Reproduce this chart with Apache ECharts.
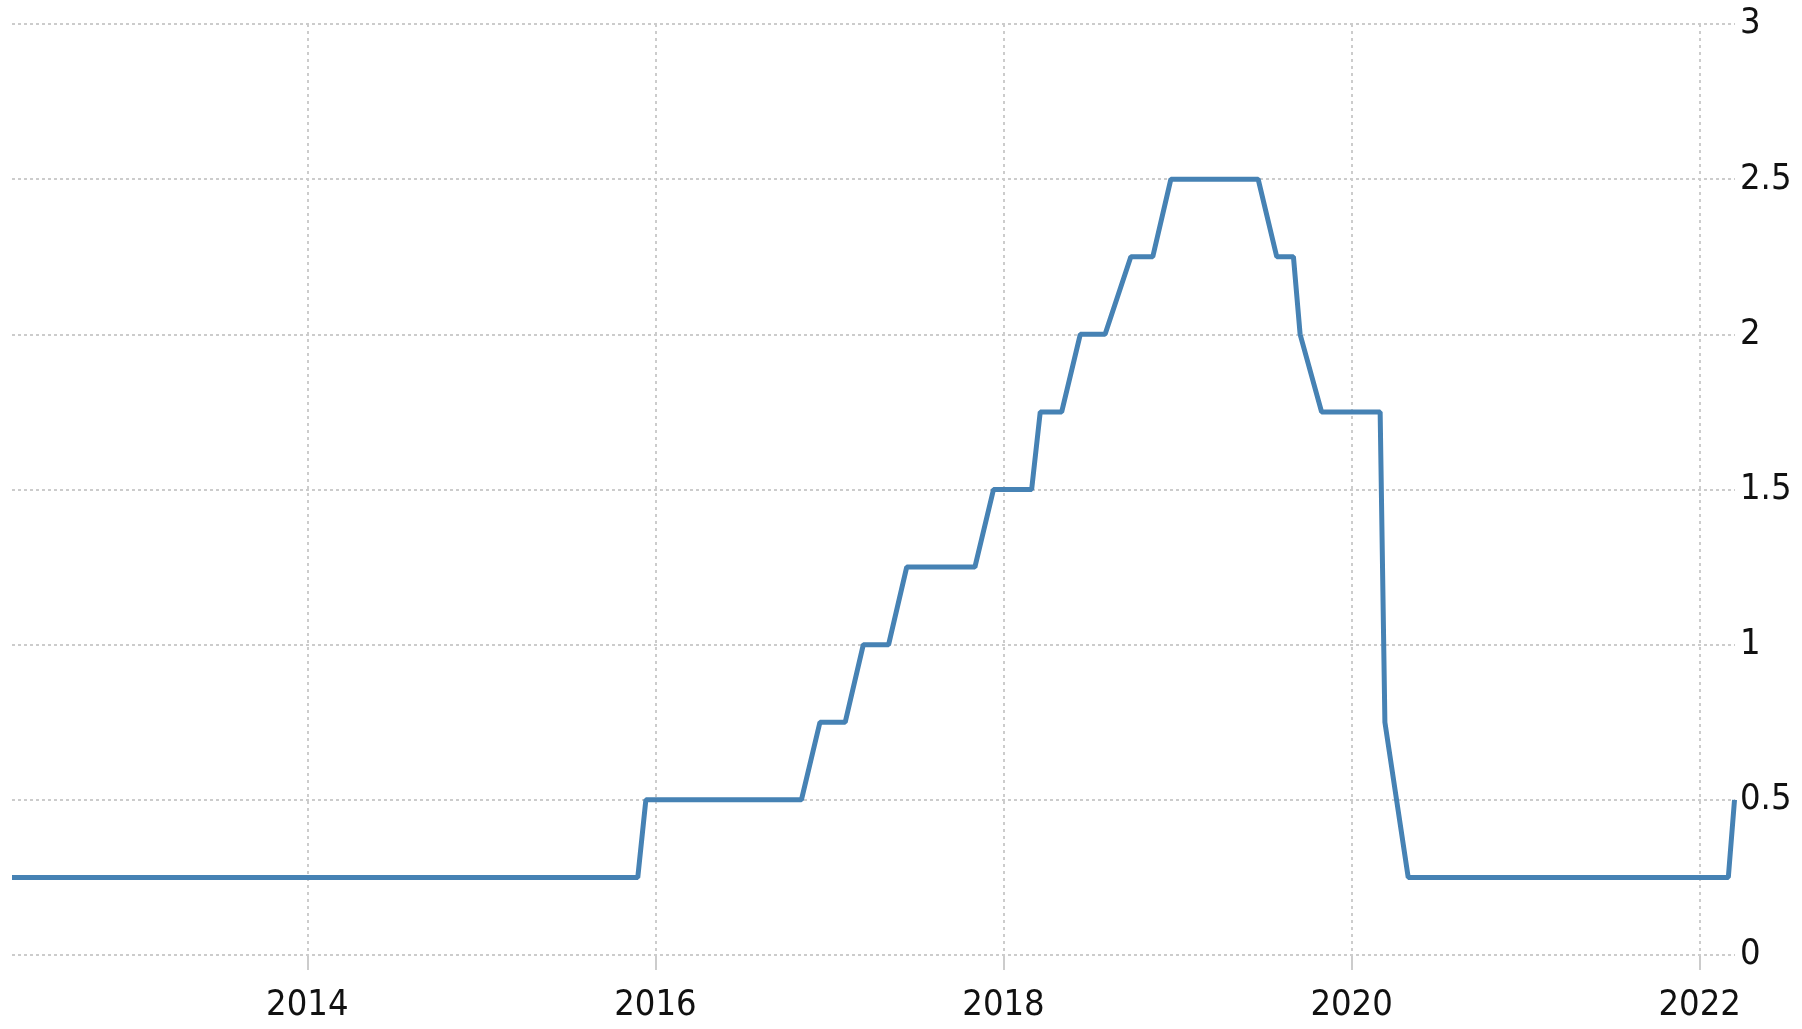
<!DOCTYPE html>
<html>
<head>
<meta charset="utf-8">
<script src="https://cdn.jsdelivr.net/npm/echarts@6/dist/echarts.min.js"></script>
<style>
html, body { margin: 0; padding: 0; background: #fff; }
#chart { width: 1802px; height: 1029px; }
</style>
</head>
<body>
<div id="chart"></div>
<script>
// corner points of the rate line (date, %)
var dates = [
	'2012-04-21', '2015-11-25', '2015-12-12', '2016-11-03', '2016-12-12',
	'2017-02-03', '2017-03-13', '2017-05-05', '2017-06-12', '2017-11-02',
	'2017-12-11', '2018-03-01', '2018-03-19', '2018-05-03', '2018-06-11',
	'2018-08-02', '2018-09-25', '2018-11-10', '2018-12-18', '2019-06-19',
	'2019-07-28', '2019-09-01', '2019-09-15', '2019-10-30', '2020-03-01',
	'2020-03-11', '2020-04-29', '2022-03-02', '2022-03-15'
];
var rates = [
	0.25, 0.25, 0.5, 0.5, 0.75,
	0.75, 1.0, 1.0, 1.25, 1.25,
	1.5, 1.5, 1.75, 1.75, 2.0,
	2.0, 2.25, 2.25, 2.5, 2.5,
	2.25, 2.25, 2.0, 1.75, 1.75,
	0.75, 0.25, 0.25, 0.5
];
var tickYears = [2014, 2016, 2018, 2020, 2022];
var xStart = '2012-04-21';
var xEnd = '2022-03-16';

// date string -> fractional year, so the value axis works as a calendar scale
function toYear(s) {
	var p = s.split('-').map(Number);
	var t0 = Date.UTC(p[0], 0, 1), t1 = Date.UTC(p[0] + 1, 0, 1);
	return p[0] + (Date.UTC(p[0], p[1] - 1, p[2]) - t0) / (t1 - t0);
}

var chart = echarts.init(document.getElementById('chart'));
var labelFont = "'Liberation Sans Narrow', 'DejaVu Sans Condensed', 'Liberation Sans', sans-serif";

var option = {
	animation: false,
	grid: { left: 12, right: 67, top: 24, bottom: 74 },
	xAxis: {
		type: 'value',
		min: toYear(xStart),
		max: toYear(xEnd),
		axisLine: { show: false },
		axisTick: {
			show: true,
			customValues: tickYears,
			length: 15,
			lineStyle: { color: '#cccccc', width: 2 }
		},
		axisLabel: {
			customValues: tickYears,
			margin: 33,
			fontSize: 36,
			fontFamily: labelFont,
			color: '#111',
			formatter: function (v) { return String(v); }
		},
		splitLine: {
			show: true,
			lineStyle: { color: '#cccccc', width: 2, type: [3, 4] }
		}
	},
	yAxis: {
		type: 'value',
		position: 'right',
		min: 0,
		max: 3,
		interval: 0.5,
		axisLine: { show: false },
		axisTick: { show: false },
		axisLabel: {
			margin: 5,
			fontSize: 36,
			fontFamily: labelFont,
			color: '#111'
		},
		splitLine: {
			show: true,
			lineStyle: { color: '#cccccc', width: 2, type: [3, 3] }
		}
	},
	series: [{
		type: 'line',
		symbol: 'none',
		lineStyle: { color: '#4682b4', width: 5 },
		data: dates.map(function (d, i) { return [toYear(d), rates[i]]; })
	}]
};
chart.setOption(option);
</script>
</body>
</html>
